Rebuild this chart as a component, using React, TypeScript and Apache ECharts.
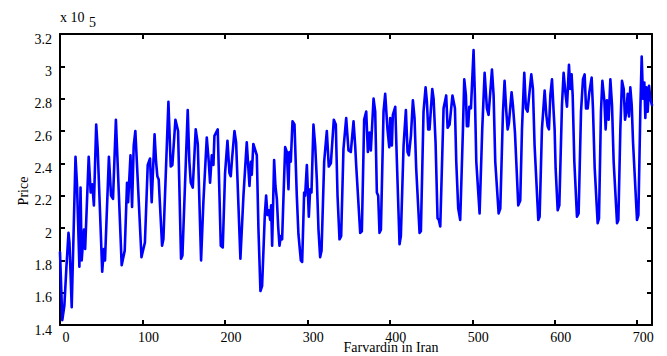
import React, { useEffect, useRef } from "react";
import * as echarts from "echarts";

// Day index (Farvardin in Iran) and price in units of 10^5
const days = [
  0, 2.8, 5.3, 7.7, 10.3, 11.5, 14.2, 18.8, 20.6, 23.5, 24.9, 26.3, 29.1, 30.5, 34.8, 37.2, 39.2, 41.1, 43.9, 45.7,
  51.2, 53.2, 54.6, 59.3, 61.9, 64.3, 67.8, 74.8, 78.5, 81.3, 82.6, 85.5, 87.4, 89.4, 91.4, 98.8, 103, 106.4, 109.2, 111.2,
  114.7, 116.5, 118.1, 119.7, 123.8, 125.4, 131.5, 134.3, 136.3, 140.0, 143.2, 146.8, 148.5, 154.9, 156.9, 158.6, 161.0, 164.6, 167.1, 171.1,
  173.9, 178.0, 180.4, 182.0, 184.1, 186.1, 187.3, 191.3, 195.0, 197.4, 200.2, 203.1, 205.5, 207.1, 208.7, 211.6, 213.6, 218.8, 222.5, 226.5,
  229.8, 231.5, 232.6, 234.5, 238.7, 240.7, 243.1, 245.1, 248.4, 250.0, 251.6, 253.2, 254.9, 256.1, 257.3, 259.7, 261.3, 263.0, 264.6, 266.2,
  267.8, 269.4, 271.1, 273.1, 275.1, 277.1, 278.3, 279.9, 282.0, 284.4, 287.2, 289.2, 292.1, 293.7, 296.1, 297.3, 299.4, 301.8, 303.4, 305.0,
  307.4, 309.5, 311.5, 313.5, 315.5, 317.2, 320.4, 323.6, 326.0, 328.5, 332.1, 334.5, 336.6, 339.0, 341.0, 343.8, 347.1, 349.9, 352.7, 356.0,
  358.0, 359.2, 364.1, 366.1, 368.9, 371.4, 373.4, 375.4, 377.0, 380.3, 382.3, 384.3, 385.9, 387.5, 389.2, 392.4, 394.4, 397.2, 399.3, 400.5,
  402.5, 403.7, 406.6, 408.6, 411.8, 413.4, 416.7, 419.5, 421.5, 423.1, 425.6, 428.0, 430.0, 432.0, 436.1, 437.7, 440.9, 443.4, 445.0, 446.6,
  448.2, 451.5, 453.1, 455.5, 457.9, 459.5, 461.2, 465.2, 468.4, 470.1, 472.5, 476.0, 479.0, 480.6, 483.0, 485.4, 488.7, 490.3, 492.3, 493.5,
  495.1, 496.4, 498.4, 501.6, 503.2, 504.9, 508.9, 512.1, 515.0, 517.8, 519.8, 523.9, 525.9, 527.9, 532.0, 534.0, 537.2, 539.2, 541.3, 542.9,
  544.5, 547.7, 549.3, 551.8, 553.4, 555.8, 558.2, 560.3, 563.1, 565.1, 567.1, 571.6, 573.6, 575.6, 580.1, 581.7, 584.5, 587.8, 589.8, 591.4,
  593.0, 594.7, 596.7, 598.7, 599.9, 601.1, 603.6, 605.6, 608.8, 610.8, 612.9, 614.9, 617.3, 618.9, 620.5, 621.8, 623.8, 627.0, 629.0, 631.9,
  634.3, 636.3, 638.0, 640.0, 642.0, 644.8, 646.4, 648.5, 652.1, 653.7, 656.1, 657.8, 660.2, 661.8, 663.4, 665.4, 667.5, 669.5, 671.5, 675.6,
  677.2, 679.6, 681.6, 683.7, 685.3, 686.9, 688.5, 690.1, 691.7, 693.4, 695.0, 699.8, 701.5, 703.9, 705.5, 707.1, 708.7, 709.9, 711.2, 712.8,
  714.4, 716.0, 718.0,
];

const prices = [
  1.85, 1.43, 1.52, 1.75, 1.97, 1.91, 1.51, 2.44, 2.27, 1.76, 2.25, 1.80, 1.99, 1.87, 2.44, 2.22, 2.27, 2.14, 2.64, 2.49,
  1.73, 1.87, 1.80, 2.44, 2.20, 2.18, 2.67, 1.77, 1.86, 2.28, 2.16, 2.45, 2.13, 2.51, 2.60, 1.82, 1.91, 2.39, 2.43, 2.16,
  2.58, 2.41, 2.32, 2.30, 1.89, 1.93, 2.78, 2.38, 2.39, 2.67, 2.60, 1.81, 1.83, 2.73, 2.41, 2.28, 2.25, 2.61, 2.52, 1.80,
  2.16, 2.56, 2.41, 2.28, 2.45, 2.39, 2.57, 2.61, 1.89, 1.88, 2.34, 2.54, 2.34, 2.32, 2.43, 2.60, 2.53, 1.81, 2.20, 2.53,
  2.26, 2.41, 2.33, 2.52, 2.45, 1.99, 1.61, 1.64, 2.08, 2.20, 2.08, 2.11, 2.05, 2.14, 1.89, 2.42, 2.26, 2.18, 2.01, 1.89,
  1.95, 1.93, 2.20, 2.50, 2.47, 2.24, 2.47, 2.41, 2.66, 2.64, 2.20, 1.96, 1.80, 1.79, 2.22, 2.20, 2.39, 2.07, 2.24, 2.22,
  2.64, 2.51, 2.30, 1.99, 1.82, 1.86, 2.41, 2.60, 2.38, 2.40, 2.67, 2.64, 2.20, 1.93, 1.95, 2.49, 2.68, 2.48, 2.47, 2.66,
  2.51, 2.39, 1.97, 1.98, 2.67, 2.72, 2.47, 2.59, 2.48, 2.80, 2.72, 2.22, 2.20, 1.97, 1.99, 2.72, 2.83, 2.61, 2.50, 2.68,
  2.51, 2.70, 2.75, 2.41, 1.90, 1.95, 2.51, 2.73, 2.47, 2.45, 2.57, 2.79, 2.68, 2.37, 1.97, 1.98, 2.72, 2.87, 2.78, 2.61,
  2.61, 2.86, 2.80, 2.53, 2.06, 2.05, 2.01, 2.74, 2.82, 2.62, 2.64, 2.82, 2.74, 2.41, 2.12, 2.05, 2.61, 2.92, 2.82, 2.63,
  2.63, 2.75, 2.74, 3.10, 2.82, 2.41, 2.09, 2.61, 2.96, 2.74, 2.70, 2.98, 2.82, 2.41, 2.09, 2.12, 2.71, 2.91, 2.72, 2.61,
  2.65, 2.84, 2.76, 2.59, 2.41, 2.14, 2.17, 2.61, 2.96, 2.74, 2.72, 2.95, 2.86, 2.51, 2.05, 2.07, 2.61, 2.85, 2.70, 2.63,
  2.61, 2.82, 2.92, 2.72, 2.61, 2.37, 2.11, 2.14, 2.76, 2.96, 2.84, 2.75, 3.01, 2.86, 2.95, 2.82, 2.41, 2.07, 2.09, 2.72,
  2.92, 2.95, 2.74, 2.74, 2.84, 2.93, 2.74, 2.37, 2.03, 2.06, 2.72, 2.91, 2.79, 2.61, 2.79, 2.67, 2.92, 2.76, 2.41, 2.03,
  2.05, 2.61, 2.91, 2.86, 2.67, 2.72, 2.83, 2.69, 2.87, 2.76, 2.53, 2.05, 2.08, 2.74, 3.06, 2.80, 2.90, 2.68, 2.87, 2.72,
  2.88, 2.80, 2.76,
];

const xMin = 0;
const xMax = 718;
const xStep = 100;
const yMin = 1.4;
const yMax = 3.2;
const yStep = 0.2;

const FONT = '"Liberation Serif", "Times New Roman", serif';

export default function App() {
  const ref = useRef<HTMLDivElement>(null);

  useEffect(() => {
    if (!ref.current) return;
    const chart = echarts.init(ref.current, undefined, { renderer: "svg" });
    const data = days.map((d, i) => [d, prices[i]]);

    const axisLine = { show: true, onZero: false, lineStyle: { color: "#000", width: 2 } };
    const axisTick = { show: true, inside: true, length: 5, lineStyle: { color: "#000", width: 2 } };

    chart.setOption({
      animation: false,
      backgroundColor: "#fff",
      grid: { left: 60, right: 15, top: 34, bottom: 31, containLabel: false },
      xAxis: [
        {
          type: "value",
          min: xMin,
          max: xMax,
          interval: xStep,
          position: "bottom",
          axisLine,
          axisTick,
          splitLine: { show: false },
          axisLabel: {
            color: "#000",
            fontFamily: FONT,
            fontSize: 14,
            margin: 5,
            align: "center",
            padding: [0, 0, 0, 12],
            formatter: (v: number) => (Math.round(v) % 100 === 0 ? String(Math.round(v)) : ""),
          },
        },
        {
          type: "value",
          min: xMin,
          max: xMax,
          interval: xStep,
          position: "top",
          axisLine,
          axisTick,
          splitLine: { show: false },
          axisLabel: { show: false },
        },
      ],
      yAxis: [
        {
          type: "value",
          min: yMin,
          max: yMax,
          interval: yStep,
          position: "left",
          axisLine,
          axisTick,
          splitLine: { show: false },
          axisLabel: {
            color: "#000",
            fontFamily: FONT,
            fontSize: 14,
            margin: 8,
            verticalAlign: "top",
            lineHeight: 10,
            formatter: (v: number) => String(Math.round(v * 10) / 10),
          },
        },
        {
          type: "value",
          min: yMin,
          max: yMax,
          interval: yStep,
          position: "right",
          axisLine,
          axisTick,
          splitLine: { show: false },
          axisLabel: { show: false },
        },
      ],
      graphic: [
        {
          type: "text",
          x: 60,
          y: 10,
          style: { text: "x 10", fill: "#000", fontFamily: FONT, fontSize: 14, align: "left", verticalAlign: "top" },
        },
        {
          type: "text",
          x: 89,
          y: 15,
          style: { text: "5", fill: "#000", fontFamily: FONT, fontSize: 14, align: "left", verticalAlign: "top" },
        },
        {
          type: "text",
          x: 23,
          y: 191,
          rotation: Math.PI / 2,
          style: { text: "Price", fill: "#000", fontFamily: FONT, fontSize: 14, align: "center", verticalAlign: "middle" },
        },
        {
          type: "text",
          x: 391,
          y: 347,
          style: { text: "Farvardin in Iran", fill: "#000", fontFamily: FONT, fontSize: 14, align: "center", verticalAlign: "middle" },
        },
      ],
      series: [
        {
          type: "line",
          xAxisIndex: 0,
          yAxisIndex: 0,
          data,
          showSymbol: false,
          symbol: "none",
          lineStyle: { color: "#0000ff", width: 2.6, join: "round", cap: "round" },
        },
      ],
    });

    return () => chart.dispose();
  }, []);

  return (
    <div
      ref={ref}
      style={{ position: "absolute", left: 0, top: 0, width: 667, height: 356 }}
    />
  );
}
